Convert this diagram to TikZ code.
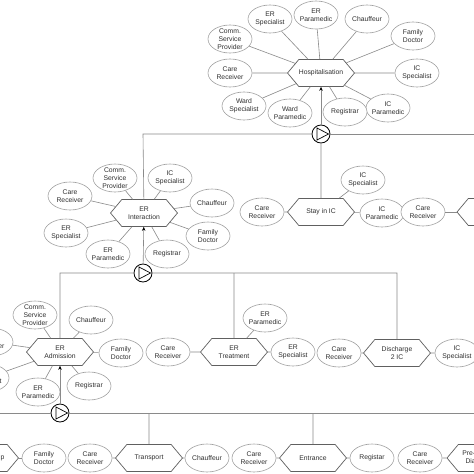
\documentclass[tikz,border=0pt]{standalone}
\usepackage{fontspec}
\setmainfont{Liberation Sans}
\usetikzlibrary{shapes.geometric,shapes.symbols,arrows.meta}
\definecolor{ellc}{HTML}{A0A0A0}
\definecolor{hexc}{HTML}{606060}
\definecolor{linec}{HTML}{8A8A8A}
\definecolor{txtc}{HTML}{303030}
\newcommand\EL[3]{\node[ell, label={[txt]center:{#3}}] (#1) at (#2) {};}
\begin{document}
\begin{tikzpicture}[x=1pt,y=-1pt,
  ell/.style={ellipse, draw=ellc, line width=0.6pt, fill=white, minimum width=44pt, minimum height=28pt, inner sep=0pt},
  txt/.style={font=\fontsize{6.8}{8}\selectfont, text=txtc, align=center, inner sep=0pt},
  hex/.style={signal, signal to=east and west, signal pointer angle=100, draw=hexc, line width=0.7pt, fill=white, minimum width=67pt, minimum height=27pt, inner sep=0pt, font=\fontsize{6.8}{8}\selectfont, align=center, text=txtc},
  con/.style={draw=linec, line width=0.6pt},
  arr/.style={draw=linec, line width=0.6pt, -{Stealth[length=4pt,width=3.5pt,color=black]}},
  seq/.style={circle, draw=black, line width=0.8pt, fill=white, minimum size=18pt, inner sep=0pt,
    path picture={\draw[black, line width=0.7pt] (path picture bounding box.center) ++(-4,-6) -- ++(11.5,6) -- ++(-11.5,6) -- cycle;}},
]
\useasboundingbox (0,0) rectangle (474,474);
\clip (0,0) rectangle (474,474);
\fill[white] (0,0) rectangle (474,474);

% ---------- Hospitalisation ----------
\node[hex] (hosp) at (321,73) {Hospitalisation};
\EL{h1}{230,39}{Comm.\\Service\\Provider}
\EL{h2}{270,19}{ER\\Specialist}
\EL{h3}{316,15}{ER\\Paramedic}
\EL{h4}{367,19}{Chauffeur}
\EL{h5}{413,36}{Family\\Doctor}
\EL{h6}{417,73}{IC\\Specialist}
\EL{h7}{388,108}{IC\\Paramedic}
\EL{h8}{345,112}{Registrar}
\EL{h9}{290,113}{Ward\\Paramedic}
\EL{h10}{244,106}{Ward\\Specialist}
\EL{h11}{230,73}{Care\\Receiver}
\foreach \n in {h1,h2,h3,h4,h5,h6,h7,h8,h9,h10,h11} \draw[con] (\n) -- (hosp);

% ---------- Stay in IC ----------
\node[hex] (stay) at (321,212) {Stay in IC};
\EL{s1}{262,212}{Care\\Receiver}
\EL{s2}{363,180}{IC\\Specialist}
\EL{s3}{382,213}{IC\\Paramedic}
\EL{s4}{423,212}{Care\\Receiver}
\node[hex] (s5) at (490.5,212) {};
\foreach \n in {s1,s2,s3} \draw[con] (\n) -- (stay);
\draw[con] (s4) -- (s5);

% ---------- ER Interaction ----------
\node[hex] (eri) at (144,213) {ER\\Interaction};
\EL{i1}{115,178}{Comm.\\Service\\Provider}
\EL{i2}{70,196}{Care\\Receiver}
\EL{i3}{170,178}{IC\\Specialist}
\EL{i4}{212,203}{Chauffeur}
\EL{i5}{208,236}{Family\\Doctor}
\EL{i6}{167,254}{Registrar}
\EL{i7}{108,254}{ER\\Paramedic}
\EL{i8}{66,233}{ER\\Specialist}
\foreach \n in {i1,i2,i3,i4,i5,i6,i7,i8} \draw[con] (\n) -- (eri);

% ---------- ER Admission ----------
\node[hex] (era) at (60,352) {ER\\Admission};
\EL{a1}{35,315}{Comm.\\Service\\Provider}
\EL{a2}{91,320}{Chauffeur}
\EL{a3}{121,353}{Family\\Doctor}
\EL{a4}{89,386}{Registrar}
\EL{a5}{38,392}{ER\\Paramedic}
\EL{a6}{-9,342}{Care\\Receiver}
\EL{a7}{-13,378}{ER\\Specialist}
\foreach \n in {a1,a2,a3,a4,a5,a6,a7} \draw[con] (\n) -- (era);

% ---------- ER Treatment ----------
\node[hex] (ert) at (234,352) {ER\\Treatment};
\EL{t1}{168,352}{Care\\Receiver}
\EL{t2}{265,318}{ER\\Paramedic}
\EL{t3}{293,352}{ER\\Specialist}
\foreach \n in {t1,t2,t3} \draw[con] (\n) -- (ert);

% ---------- Discharge 2 IC ----------
\node[hex] (dis) at (397,353) {Discharge\\2 IC};
\EL{d1}{339,353}{Care\\Receiver}
\EL{d2}{457,353}{IC\\Specialist}
\foreach \n in {d1,d2} \draw[con] (\n) -- (dis);

% ---------- bottom row ----------
\node[hex] (b0) at (-15,458) {};
\node[txt, anchor=east] (b0t) at (4.5,458) {Pick-up};
\EL{b1}{44,458}{Family\\Doctor}
\EL{b2}{90,458}{Care\\Receiver}
\node[hex] (tr) at (149,458) {Transport};
\EL{b3}{207,458}{Chauffeur}
\EL{b4}{254,458}{Care\\Receiver}
\node[hex] (en) at (313,458) {Entrance};
\EL{b5}{372,458}{Registar}
\EL{b6}{420,458}{Care\\Receiver}
\node[hex] (b7) at (480.5,458) {Pre-hospital\\Diagnosis};
\draw[con] (b1) -- (b0);
\draw[con] (b2) -- (tr);
\draw[con] (b3) -- (tr);
\draw[con] (b4) -- (en);
\draw[con] (b5) -- (en);
\draw[con] (b6) -- (b7);

% ---------- sequence operators ----------
\node[seq] (c1) at (321,134) {};
\node[seq] (c2) at (143,273) {};
\node[seq] (c3) at (60,413) {};
\coordinate (k1) at (143,134);
\coordinate (k2) at (480,134);
\coordinate (k3) at (60,273);
\coordinate (k4) at (234,273);
\coordinate (k5) at (397,273);
\coordinate (k6) at (-5,413);
\coordinate (k7) at (480,413);
\coordinate (k8) at (149,413);
\coordinate (k9) at (313,413);

\draw[arr] (c1) -- (hosp);
\draw[con] (c1) -- (stay);
\draw[con] (c1) -- (k1) -- (eri);
\draw[con] (c1) -- (k2);

\draw[arr] (c2) -- (eri);
\draw[con] (c2) -- (k3) -- (era);
\draw[con] (c2) -- (k5) -- (dis);
\draw[con] (k4) -- (ert);

\draw[arr] (c3) -- (era);
\draw[con] (c3) -- (k6);
\draw[con] (c3) -- (k7);
\draw[con] (k8) -- (tr);
\draw[con] (k9) -- (en);
\end{tikzpicture}
\end{document}
